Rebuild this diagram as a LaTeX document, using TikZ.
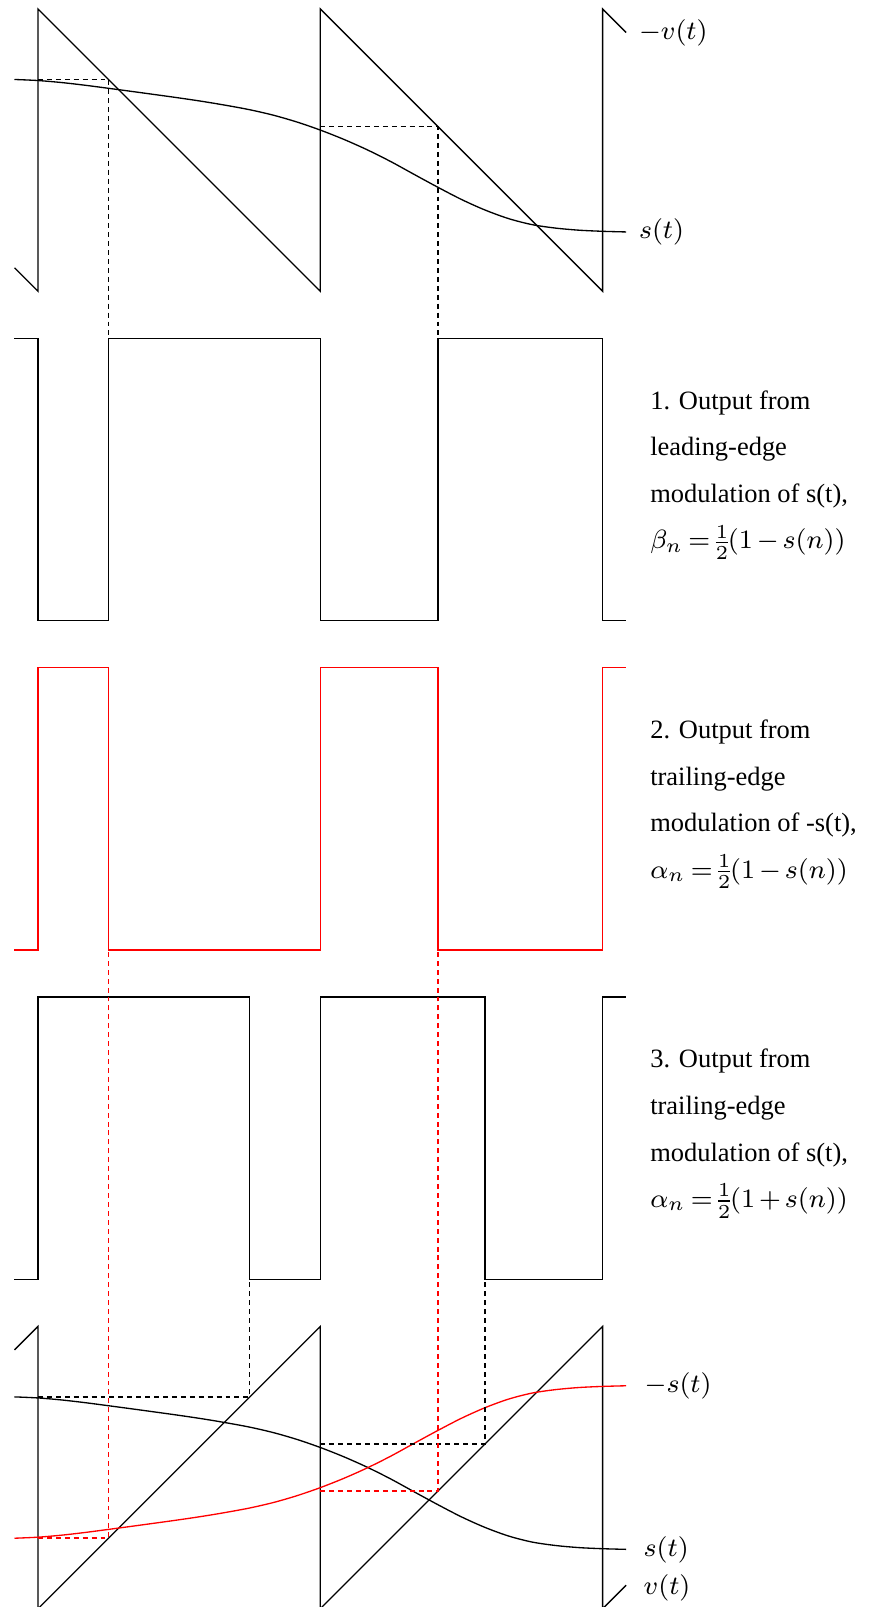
\documentclass[tikz,border=0pt]{standalone}
\usepackage{fontspec}
\setmainfont{Liberation Serif}
\newcommand{\tightmath}[1]{\medmuskip=2.5mu\relax\thickmuskip=3.5mu\relax\nulldelimiterspace=0pt\relax$#1$}
\begin{document}
\begin{tikzpicture}[x=1cm,y=1cm,font=\fontsize{8}{10}\selectfont,
  wave/.style={line width=0.4pt, line join=miter},
  guide/.style={line width=0.4pt, dash pattern=on 1.5pt off 1.2pt},
  lbl/.style={anchor=west, inner sep=0pt},
  txt/.style={anchor=base west, inner sep=0pt}]
\useasboundingbox (-0.404,0.0956) rectangle (8.990,-16.982);
\def\scurve{(-0.25,0.751) (0,0.7398) (0.25,0.7185) (0.5,0.6898) (0.75,0.6570) (1.0,0.6236) (1.25,0.5895) (1.5,0.5548) (1.75,0.5176) (2.0,0.4759) (2.25,0.4295) (2.5,0.3718) (2.75,0.2995) (3.0,0.2133) (3.25,0.1145) (3.5,0.0030) (3.75,-0.1221) (4.0,-0.2593) (4.25,-0.3948) (4.5,-0.5241) (4.75,-0.6361) (5.0,-0.7274) (5.25,-0.7915) (5.5,-0.8283) (5.75,-0.8507) (6.0,-0.8624) (6.25,-0.8692)}
\def\mscurve{(-0.25,-0.751) (0,-0.7398) (0.25,-0.7185) (0.5,-0.6898) (0.75,-0.6570) (1.0,-0.6236) (1.25,-0.5895) (1.5,-0.5548) (1.75,-0.5176) (2.0,-0.4759) (2.25,-0.4295) (2.5,-0.3718) (2.75,-0.2995) (3.0,-0.2133) (3.25,-0.1145) (3.5,-0.0030) (3.75,0.1221) (4.0,0.2593) (4.25,0.3948) (4.5,0.5241) (4.75,0.6361) (5.0,0.7274) (5.25,0.7915) (5.5,0.8283) (5.75,0.8507) (6.0,0.8624) (6.25,0.8692)}

% ---------- panel 1: -v(t) and s(t)
\draw[wave] (-0.25,-2.75) -- (0,-3) -- (0,0) -- (3,-3) -- (3,0) -- (6,-3) -- (6,0) -- (6.25,-0.25);
\begin{scope}[yshift=-1.5cm]
\draw[wave] plot[smooth] coordinates {\scurve};
\end{scope}
\draw[guide] (0,-0.75) -- (0.75,-0.75) -- (0.75,-3.5);
\draw[guide] (3,-1.25) -- (4.25,-1.25) -- (4.25,-4.1);
\node[lbl] (lmv) at (6.38,-0.25) {$-v(t)$};
\node[lbl] (ls1) at (6.38,-2.37) {$s(t)$};

% ---------- panel 2: leading-edge PWM
\draw[wave] (-0.25,-3.5) -- (0,-3.5) -- (0,-6.5) -- (0.75,-6.5) -- (0.75,-3.5) -- (3,-3.5) -- (3,-6.5) -- (4.25,-6.5) -- (4.25,-3.5) -- (6,-3.5) -- (6,-6.5) -- (6.25,-6.5);
\node[txt] (t1a) at (6.50,-4.253) {1. Output from};
\node[txt] (t1b) at (6.50,-4.748) {leading-edge};
\node[txt] (t1c) at (6.50,-5.243) {modulation of s(t),};
\node[txt] (t1d) at (6.50,-5.738) {\tightmath{\beta_n=\frac{1}{2}(1-s(n))}};

% ---------- panel 3: red trailing-edge PWM of -s
\draw[wave,red] (-0.25,-10) -- (0,-10) -- (0,-7) -- (0.75,-7) -- (0.75,-10) -- (3,-10) -- (3,-7) -- (4.25,-7) -- (4.25,-10) -- (6,-10) -- (6,-7) -- (6.25,-7);
\node[txt] (t2a) at (6.50,-7.753) {2. Output from};
\node[txt] (t2b) at (6.50,-8.248) {trailing-edge};
\node[txt] (t2c) at (6.50,-8.743) {modulation of -s(t),};
\node[txt] (t2d) at (6.50,-9.238) {\tightmath{\alpha_n=\frac{1}{2}(1-s(n))}};

% ---------- panel 4: trailing-edge PWM of s
\draw[wave] (-0.25,-13.5) -- (0,-13.5) -- (0,-10.5) -- (2.25,-10.5) -- (2.25,-13.5) -- (3,-13.5) -- (3,-10.5) -- (4.75,-10.5) -- (4.75,-13.5) -- (6,-13.5) -- (6,-10.5) -- (6.25,-10.5);
\node[txt] (t3a) at (6.50,-11.253) {3. Output from};
\node[txt] (t3b) at (6.50,-11.748) {trailing-edge};
\node[txt] (t3c) at (6.50,-12.243) {modulation of s(t),};
\node[txt] (t3d) at (6.50,-12.738) {\tightmath{\alpha_n=\frac{1}{2}(1+s(n))}};

% ---------- panel 5: v(t), s(t), -s(t)
\draw[wave] (-0.25,-14.25) -- (0,-14) -- (0,-17) -- (3,-14) -- (3,-17) -- (6,-14) -- (6,-17) -- (6.25,-16.75);
\begin{scope}[yshift=-15.5cm]
\draw[wave] plot[smooth] coordinates {\scurve};
\draw[wave,red] plot[smooth] coordinates {\mscurve};
\end{scope}
\draw[guide] (0,-14.75) -- (2.25,-14.75) -- (2.25,-11.56);
\draw[guide] (3,-15.25) -- (4.75,-15.25) -- (4.75,-12.37);
\draw[guide,red] (0,-16.25) -- (0.75,-16.25) -- (0.75,-10);
\draw[guide,red] (3,-15.75) -- (4.25,-15.75) -- (4.25,-10);
\node[lbl] (lms) at (6.44,-14.63) {$-s(t)$};
\node[lbl] (ls5) at (6.43,-16.37) {$s(t)$};
\node[lbl] (lv) at (6.43,-16.78) {$v(t)$};
\end{tikzpicture}
\end{document}
